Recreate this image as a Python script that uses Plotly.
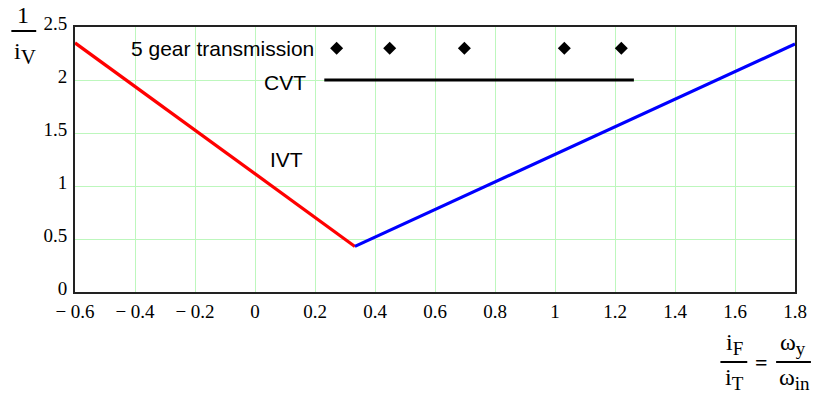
import plotly.graph_objects as go

# IVT branches: 1/iV versus iF/iT
ivt_red_x = [-0.6, 0.333]
ivt_red_y = [2.35, 0.43]
ivt_blue_x = [0.333, 1.8]
ivt_blue_y = [0.43, 2.34]

# 5-speed gearbox ratios
gear_x = [0.272, 0.449, 0.698, 1.031, 1.221]
gear_y = [2.3, 2.3, 2.3, 2.3, 2.3]

# CVT ratio spread
cvt_x = [0.231, 1.263]
cvt_y = [2.0, 2.0]

x_ticks = [-0.6, -0.4, -0.2, 0, 0.2, 0.4, 0.6, 0.8, 1.0, 1.2, 1.4, 1.6, 1.8]
x_tick_text = ["\u2212 0.6", "\u2212 0.4", "\u2212 0.2", "0", "0.2", "0.4", "0.6",
               "0.8", "1", "1.2", "1.4", "1.6", "1.8"]
y_ticks = [0, 0.5, 1, 1.5, 2, 2.5]
y_tick_text = ["0", "0.5", "1", "1.5", "2", "2.5"]

W, H = 819, 396
ML, MR, MT, MB = 75, 20, 27, 104
PW, PH = W - ML - MR, H - MT - MB


def px(xp):
    return (xp - ML) / PW


def py(yp):
    return (H - MB - yp) / PH


SERIF = "Liberation Serif"
SANS = "Liberation Sans"


def subscripted(base, sub, sub_size=19):
    return f'{base}<sub><span style="font-size:{sub_size}px">{sub}</span></sub>'


fig = go.Figure()
fig.add_trace(go.Scatter(x=ivt_red_x, y=ivt_red_y, mode="lines",
                         line=dict(color="#ff0000", width=3.2), showlegend=False))
fig.add_trace(go.Scatter(x=ivt_blue_x, y=ivt_blue_y, mode="lines",
                         line=dict(color="#0000ff", width=3.2), showlegend=False))
fig.add_trace(go.Scatter(x=cvt_x, y=cvt_y, mode="lines",
                         line=dict(color="#000000", width=3.2), showlegend=False))
fig.add_trace(go.Scatter(x=gear_x, y=gear_y, mode="markers",
                         marker=dict(symbol="diamond", size=10, color="#000000"),
                         showlegend=False))


def paper_text(xp, yp, text, size, family=SERIF):
    return dict(x=px(xp), y=py(yp), xref="paper", yref="paper", text=text,
                xanchor="center", yanchor="middle", showarrow=False,
                font=dict(family=family, size=size, color="#000"))


annotations = [
    dict(x=0.204, y=2.3, xref="x", yref="y", text="5 gear transmission",
         xanchor="right", yanchor="middle", showarrow=False,
         font=dict(family=SANS, size=21, color="#000")),
    dict(x=0.175, y=1.98, xref="x", yref="y", text="CVT",
         xanchor="right", yanchor="middle", showarrow=False,
         font=dict(family=SANS, size=21, color="#000")),
    dict(x=0.105, y=1.25, xref="x", yref="y", text="IVT",
         xanchor="center", yanchor="middle", showarrow=False,
         font=dict(family=SANS, size=21, color="#000")),
    # y-axis title: 1 / iV
    paper_text(23, 15, "1", 24),
    paper_text(25, 54, subscripted("i", "V", 21), 24),
    # x-axis title: iF / iT = wy / win
    paper_text(738, 344, subscripted("i", "F"), 24),
    paper_text(738, 379, subscripted("i", "T"), 24),
    paper_text(765, 362, "<b>=</b>", 22),
    paper_text(797, 344, subscripted("\u03c9", "y"), 24),
    paper_text(798, 379, subscripted("\u03c9", "in"), 24),
]

shapes = [
    dict(type="line", xref="paper", yref="paper", x0=px(11), x1=px(36),
         y0=py(31), y1=py(31), line=dict(color="#000", width=2)),
    dict(type="line", xref="paper", yref="paper", x0=px(724), x1=px(751),
         y0=py(362), y1=py(362), line=dict(color="#000", width=2)),
    dict(type="line", xref="paper", yref="paper", x0=px(780), x1=px(815),
         y0=py(362), y1=py(362), line=dict(color="#000", width=2)),
]

axis_common = dict(showline=True, mirror=True, linecolor="#222", linewidth=2,
                   showgrid=True, gridcolor="#bdf7bd", gridwidth=1,
                   zeroline=False, ticks="", tickfont=dict(family=SERIF, size=19, color="#000"))

fig.update_layout(
    width=W, height=H,
    margin=dict(l=ML, r=MR, t=MT, b=MB, pad=0),
    paper_bgcolor="white", plot_bgcolor="white",
    xaxis=dict(range=[-0.6, 1.8], tickvals=x_ticks, ticktext=x_tick_text,
               ticklabelstandoff=1, **axis_common),
    yaxis=dict(range=[0, 2.5], tickvals=y_ticks, ticktext=y_tick_text,
               ticklabelstandoff=2, ticklabelshift=-4, **axis_common),
    annotations=annotations, shapes=shapes,
)

fig.write_html("out.html")
